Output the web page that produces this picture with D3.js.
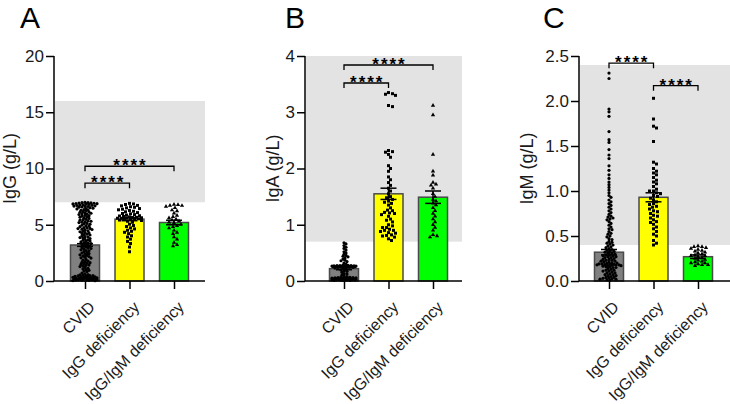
<!DOCTYPE html>
<html lang="en">
<head>
  <meta charset="UTF-8">
  <title>IgG / IgA / IgM levels</title>
  <style>
    body {
      margin: 0;
      background: #fff;
      font-family: 'Liberation Sans', Arial, sans-serif;
    }
    .axis path, .axis line {
      stroke: #000;
      stroke-width: 1.5px;
    }
    .axis text {
      font-family: 'Liberation Sans', Arial, sans-serif;
      font-size: 17px;
      fill: #1a1a1a;
    }
  </style>
  <script src="https://d3js.org/d3.v7.min.js"></script>
</head>
<body>
  <svg id="chart" width="730" height="404"></svg>

  <script>
    const groups = ["CVID", "IgG deficiency", "IgG/IgM deficiency"];
    const panelLetters = ["A", "B", "C"];
    const yTitles = ["IgG (g/L)", "IgA (g/L)", "IgM (g/L)"];
    const yMax = [20, 4, 2.5];
    const yTicks = [[0, 5, 10, 15, 20], [0, 1, 2, 3, 4], [0, 0.5, 1.0, 1.5, 2.0, 2.5]];
    const normalRange = [[7, 16], [0.7, 4], [0.4, 2.4]];

    // bar heights (mean) and SEM
    const meanIgG = [3.2, 5.5, 5.2];
    const semIgG = [0.12, 0.14, 0.2];
    const meanIgA = [0.22, 1.55, 1.49];
    const semIgA = [0.02, 0.1, 0.11];
    const meanIgM = [0.32, 0.93, 0.27];
    const semIgM = [0.03, 0.05, 0.02];

    // significance brackets: [from group, to group, height]
    const sigIgG = [[0, 1, 8.7], [0, 2, 10.2]];
    const sigIgA = [[0, 1, 3.52], [0, 2, 3.84]];
    const sigIgM = [[0, 1, 2.42], [1, 2, 2.17]];

    // individual patients
    const cvidIgG = [0.03,0.06,0.09,0.11,0.14,0.17,0.19,0.22,0.24,0.27,0.31,0.33,0.36,0.41,0.44,0.47,0.52,0.58,0.12,0.21,
      0.29,0.38,0.07,0.16,0.26,0.34,0.49,0.63,0.71,0.84,0.04,0.13,0.23,0.37,0.18,0.28,0.46,0.55,
      0.95,1.02,1.13,1.21,1.34,1.42,1.47,1.58,1.66,1.73,1.85,1.92,2.04,2.11,2.18,2.27,2.36,2.44,2.53,2.61,
      2.68,2.77,2.85,2.93,3.02,3.08,3.17,3.24,3.33,3.41,3.47,3.56,3.62,3.71,3.78,3.86,3.94,4.02,4.09,4.16,
      4.23,4.31,4.38,4.46,4.52,4.61,4.67,4.74,4.83,4.91,4.97,5.05,5.12,5.19,5.26,5.34,5.41,5.48,5.56,5.63,
      5.7,5.77,5.84,5.91,5.98,6.04,6.11,6.17,6.23,6.29,6.35,6.41,6.47,6.52,6.58,6.63,6.68,6.73,6.78,6.83,
      6.87,6.91,6.94,6.97,1.28,1.77,2.22,2.71,3.12,3.52,3.91,4.27,4.71,5.08,5.45,5.81,6.14,6.44,6.66,6.85,
      6.93,2.49,3.66,4.43,5.22,5.94,6.56,6.89,0.88,1.55,2.97,4.58,5.67,6.32,6.75,6.99,1.07,1.63,2.33,2.89,
      3.38,3.83,4.12,4.66,5.31,6.02,6.71,6.96,1.39,2.06,3.27,4.87,6.62,6.81];
    const igdIgG = [6.9,6.85,6.8,6.72,6.68,6.6,6.55,6.5,6.44,6.38,6.33,6.27,6.2,6.15,6.08,6.0,5.97,5.9,5.86,5.8,
      5.78,5.74,5.7,5.66,5.62,5.6,5.57,5.53,5.5,5.47,5.42,5.38,5.31,5.22,5.05,4.93,4.84,4.72,4.63,4.51,
      4.42,4.33,4.21,4.02,3.91,3.72,3.52,3.33,3.02,2.6,5.64,5.58,5.52];
    const igmdIgG = [6.8,6.78,6.72,6.7,6.62,6.5,6.3,6.22,6.02,5.82,5.71,5.6,5.5,5.42,5.33,5.22,5.15,5.05,4.92,4.83,
      4.7,4.5,4.32,4.21,3.91,3.72,3.42,3.22,3.1];

    const cvidIgA = [0.01,0.012,0.018,0.021,0.024,0.028,0.031,0.033,0.037,0.041,0.043,0.047,0.051,0.054,0.058,0.062,0.067,0.072,0.078,0.022,
      0.029,0.039,0.015,0.049,0.061,0.034,0.026,0.044,0.019,0.057,0.036,0.014,
      0.09,0.11,0.13,0.155,0.172,0.194,0.21,0.23,0.125,0.18,0.222,
      0.241,0.248,0.252,0.257,0.259,0.262,0.266,0.269,0.272,0.276,0.279,0.251,0.263,0.271,0.244,0.254,0.261,0.268,0.281,0.264,
      0.253,0.274,0.258,0.246,0.267,
      0.3,0.32,0.345,0.37,0.39,0.41,0.43,0.455,0.475,0.5,0.52,0.55,0.58,0.6,0.63,0.66,0.68,0.36,0.44];
    const igdIgA = [3.35,3.33,3.32,3.3,3.12,3.1,2.32,2.3,2.29,2.25,2.2,2.05,2.0,1.95,1.85,1.8,1.75,1.7,1.65,1.6,
      1.55,1.5,1.48,1.45,1.42,1.4,1.38,1.35,1.3,1.25,1.22,1.2,1.18,1.15,1.1,1.08,1.05,1.0,0.98,0.95,
      0.92,0.9,0.88,0.85,0.82,0.8,0.78,0.75,0.72,0.95,0.9,0.86,0.81,1.21,1.26];
    const igmdIgA = [3.12,2.95,2.25,1.95,1.88,1.75,1.72,1.7,1.65,1.55,1.5,1.45,1.42,1.38,1.35,1.3,1.25,1.2,1.15,1.1,
      1.05,1.0,0.95,0.9,0.82,0.8,0.78];

    const cvidIgM = [2.31,2.25,1.91,1.88,1.83,1.66,1.57,1.54,1.46,1.4,1.36,1.28,1.23,1.18,1.14,1.1,1.07,1.04,1.01,0.98,
      0.95,0.93,0.9,0.88,0.86,0.84,0.82,0.8,0.78,0.76,0.74,0.72,0.71,0.7,0.69,0.68,0.66,0.64,0.62,0.6,
      0.58,0.57,0.55,0.53,0.52,0.5,0.49,0.47,0.46,0.44,0.43,0.42,0.41,0.4,0.39,0.38,0.37,0.36,
      0.35,0.34,0.33,0.32,0.31,0.3,0.29,0.28,0.27,0.26,0.25,0.24,0.23,0.22,0.21,0.2,0.19,0.185,0.18,0.175,
      0.17,0.165,0.16,0.15,0.14,0.13,0.12,0.11,0.1,0.09,0.08,0.07,0.06,0.05,0.04,0.03,0.02,0.01,
      0.195,0.182,0.178,0.188,0.172,0.21,0.23,0.26,0.29,0.33,0.15,0.12,0.09,0.06,0.04,0.02,0.025,0.035,0.015,0.28,
      0.24,0.2,0.16,0.22,0.31,0.27,0.19,0.18,0.11,0.07];
    const igdIgM = [2.03,1.8,1.72,1.7,1.55,1.32,1.3,1.25,1.22,1.2,1.18,1.15,1.12,1.1,1.08,1.05,1.02,1.0,1.0,0.98,
      0.97,0.95,0.94,0.92,0.9,0.88,0.86,0.85,0.83,0.82,0.8,0.78,0.77,0.75,0.73,0.72,0.7,0.68,0.66,0.65,
      0.63,0.6,0.58,0.55,0.52,0.5,0.45,0.42,0.4];
    const igmdIgM = [0.39,0.38,0.38,0.37,0.36,0.35,0.34,0.33,0.32,0.31,0.3,0.29,0.28,0.28,0.27,0.26,0.25,0.24,0.23,0.22,
      0.21,0.2,0.2,0.19,0.18,0.18,0.17];

    const panels = [
      { means: meanIgG, sems: semIgG, sig: sigIgG, points: [cvidIgG, igdIgG, igmdIgG], axisX: 54, firstOff: 31, axisEnd: 205, titleOff: 38, letterOff: 34 },
      { means: meanIgA, sems: semIgA, sig: sigIgA, points: [cvidIgA, igdIgA, igmdIgA], axisX: 305, firstOff: 39, axisEnd: 462, titleOff: 26, letterOff: 20 },
      { means: meanIgM, sems: semIgM, sig: sigIgM, points: [cvidIgM, igdIgM, igmdIgM], axisX: 579, firstOff: 30, axisEnd: 740, titleOff: 46, letterOff: 36 }
    ];

    const barFill = ["#808080", "#ffff00", "#00ff00"];
    const yTop = 56, yBottom = 281;
    const barW = 29, spacing = 44.5;

    const svg = d3.select("#chart");

    // simple beeswarm offsets, keeps points inside the bar
    function swarm(ys, half, d) {
      const order = d3.range(ys.length).sort((a, b) => ys[a] - ys[b]);
      const placed = [];
      const out = new Array(ys.length);
      const cands = [0];
      for (let k = 1; k <= half; k++) { cands.push(k, -k); }
      order.forEach(i => {
        const y = ys[i];
        let best = 0, bestScore = -1;
        for (const c of cands) {
          let minD = Infinity;
          for (const p of placed) {
            if (Math.abs(p[1] - y) < d) {
              minD = Math.min(minD, Math.hypot(p[0] - c, p[1] - y));
            }
          }
          if (minD >= d) { best = c; bestScore = Infinity; break; }
          if (minD > bestScore) { bestScore = minD; best = c; }
        }
        placed.push([best, y]);
        out[i] = best;
      });
      return out;
    }

    panels.forEach((p, pi) => {
      const g = svg.append("g");
      const y = d3.scaleLinear().domain([0, yMax[pi]]).range([yBottom, yTop]);
      const x = d3.scalePoint().domain(groups)
        .range([p.axisX + p.firstOff, p.axisX + p.firstOff + 2 * spacing]);

      // normal range band
      g.append("rect")
        .attr("x", p.axisX + 1)
        .attr("y", y(normalRange[pi][1]))
        .attr("width", p.axisEnd - p.axisX - 1)
        .attr("height", y(normalRange[pi][0]) - y(normalRange[pi][1]))
        .attr("fill", "#e3e3e3");

      // bars
      g.selectAll("rect.bar")
        .data(groups)
        .enter().append("rect")
        .attr("class", "bar")
        .attr("x", d => x(d) - barW / 2)
        .attr("y", (d, i) => y(p.means[i]))
        .attr("width", barW)
        .attr("height", (d, i) => yBottom - y(p.means[i]))
        .attr("fill", (d, i) => barFill[i])
        .attr("stroke", "#4a4a4a")
        .attr("stroke-width", 1.5);

      // dots
      p.points.forEach((vals, gi) => {
        const ys = vals.map(v => y(v));
        const offs = swarm(ys, 12, gi === 0 ? 2.2 : 3.4);
        const cx = x(groups[gi]);
        const sel = g.append("g").selectAll("path").data(vals).enter();
        if (gi === 0) {
          sel.append("circle")
            .attr("cx", (v, i) => cx + offs[i])
            .attr("cy", (v, i) => ys[i])
            .attr("r", 1.6)
            .attr("fill", "#000");
        } else {
          const sym = d3.symbol().type(gi === 1 ? d3.symbolSquare : d3.symbolTriangle).size(gi === 1 ? 9 : 8);
          sel.append("path")
            .attr("d", sym)
            .attr("transform", (v, i) => `translate(${cx + offs[i]},${ys[i]})`)
            .attr("fill", "#000");
        }
      });

      // error bars (mean +/- SEM)
      const eb = g.append("g").attr("stroke", "#000").attr("stroke-width", 1.5);
      groups.forEach((grp, i) => {
        const cx = x(grp);
        const hi = y(p.means[i] + p.sems[i]);
        const lo = y(p.means[i] - p.sems[i]);
        eb.append("line").attr("x1", cx).attr("x2", cx).attr("y1", hi).attr("y2", lo);
        eb.append("line").attr("x1", cx - 8).attr("x2", cx + 8).attr("y1", hi).attr("y2", hi);
        eb.append("line").attr("x1", cx - 8).attr("x2", cx + 8).attr("y1", lo).attr("y2", lo);
      });

      // significance brackets
      p.sig.forEach(s => {
        const x1 = x(groups[s[0]]), x2 = x(groups[s[1]]), by = y(s[2]);
        g.append("path")
          .attr("d", `M${x1},${by + 5}V${by}H${x2}V${by + 5}`)
          .attr("fill", "none")
          .attr("stroke", "#000")
          .attr("stroke-width", 1.3);
        g.append("text")
          .attr("x", (x1 + x2) / 2 + 1)
          .attr("y", by + 5)
          .attr("text-anchor", "middle")
          .attr("font-size", 17)
          .attr("font-weight", "bold")
          .attr("letter-spacing", 2)
          .attr("fill", "#000")
          .text("****");
      });

      // axes
      g.append("g")
        .attr("class", "axis")
        .attr("transform", `translate(${p.axisX},0)`)
        .call(d3.axisLeft(y).tickValues(yTicks[pi]).tickSize(8).tickPadding(2)
          .tickFormat(pi === 2 ? d3.format(".1f") : d3.format("d")))
        .call(a => a.select(".domain").attr("d", `M0,${yTop}V${yBottom}`));

      const xa = g.append("g")
        .attr("class", "axis")
        .attr("transform", `translate(0,${yBottom})`)
        .call(d3.axisBottom(x).tickSize(8).tickFormat(""));
      xa.select(".domain").attr("d", `M${p.axisX},0H${p.axisEnd}`);

      groups.forEach(grp => {
        g.append("text")
          .attr("transform", `translate(${x(grp) + 11},${yBottom + 27}) rotate(-45)`)
          .attr("text-anchor", "end")
          .attr("font-size", 16)
          .attr("fill", "#1a1a1a")
          .text(grp);
      });

      // y title
      g.append("text")
        .attr("transform", `translate(${p.axisX - p.titleOff},${(yTop + yBottom) / 2}) rotate(-90)`)
        .attr("text-anchor", "middle")
        .attr("font-size", 18)
        .attr("fill", "#1a1a1a")
        .text(yTitles[pi]);

      // panel letter
      g.append("text")
        .attr("x", p.axisX - p.letterOff)
        .attr("y", 28)
        .attr("font-size", 30)
        .attr("fill", "#000")
        .text(panelLetters[pi]);
    });
  </script>
</body>
</html>
